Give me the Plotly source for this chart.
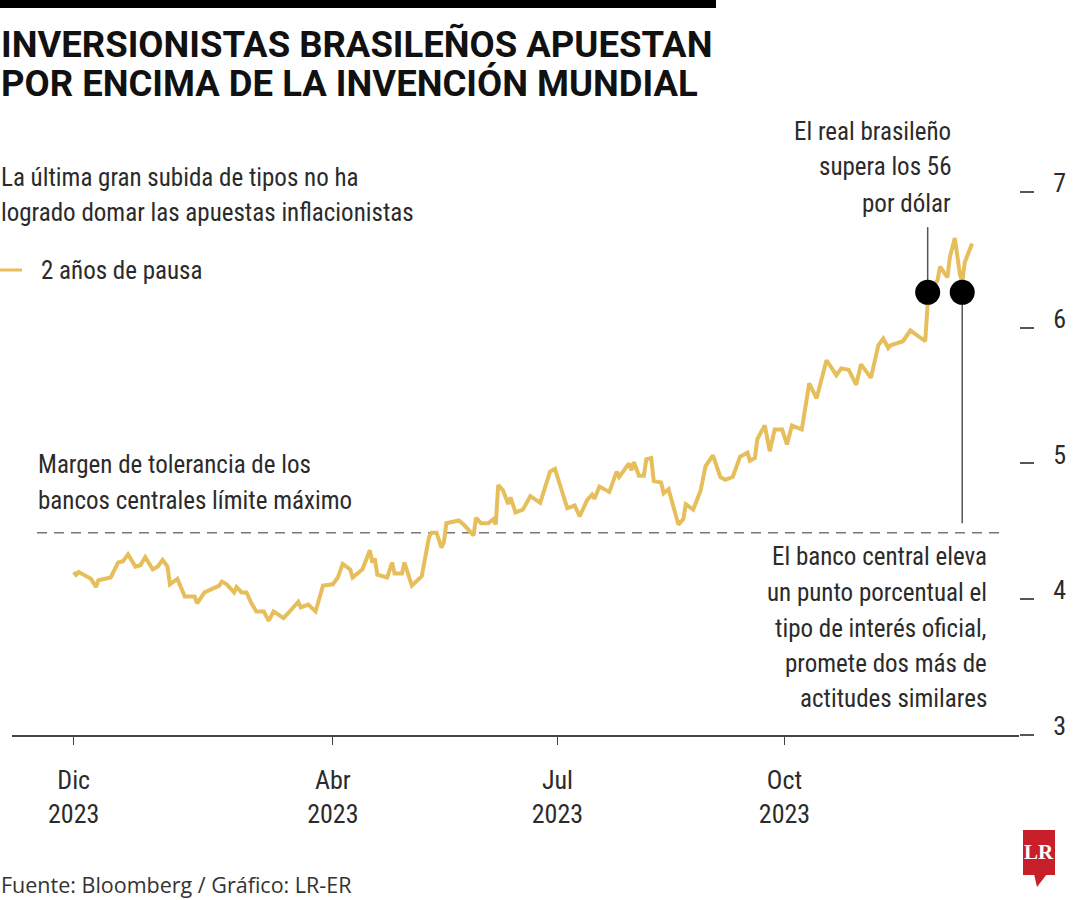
import plotly.graph_objects as go

# ---------------- data ----------------
dates = [
    "2022-12-17", "2022-12-18", "2022-12-19", "2022-12-21", "2022-12-24", "2022-12-26", "2022-12-27", "2023-01-01", "2023-01-04", "2023-01-06",
    "2023-01-08", "2023-01-11", "2023-01-13", "2023-01-15", "2023-01-18", "2023-01-20", "2023-01-22", "2023-01-24", "2023-01-25", "2023-01-28",
    "2023-01-29", "2023-01-31", "2023-02-04", "2023-02-05", "2023-02-08", "2023-02-14", "2023-02-15", "2023-02-17", "2023-02-20", "2023-02-21",
    "2023-02-23", "2023-02-25", "2023-02-27", "2023-03-01", "2023-03-04", "2023-03-06", "2023-03-08", "2023-03-12", "2023-03-18", "2023-03-19",
    "2023-03-22", "2023-03-25", "2023-03-28", "2023-04-01", "2023-04-03", "2023-04-05", "2023-04-08", "2023-04-09", "2023-04-13", "2023-04-16",
    "2023-04-17", "2023-04-18", "2023-04-19", "2023-04-23", "2023-04-25", "2023-04-26", "2023-04-29", "2023-04-30", "2023-05-03", "2023-05-06",
    "2023-05-07", "2023-05-10", "2023-05-11", "2023-05-13", "2023-05-15", "2023-05-16", "2023-05-17", "2023-05-22", "2023-05-24", "2023-05-28",
    "2023-05-29", "2023-05-31", "2023-06-03", "2023-06-05", "2023-06-06", "2023-06-07", "2023-06-09", "2023-06-11", "2023-06-12", "2023-06-14",
    "2023-06-17", "2023-06-20", "2023-06-24", "2023-06-28", "2023-06-30", "2023-07-05", "2023-07-08", "2023-07-10", "2023-07-13", "2023-07-15",
    "2023-07-16", "2023-07-18", "2023-07-22", "2023-07-25", "2023-07-26", "2023-07-30", "2023-07-31", "2023-08-01", "2023-08-03", "2023-08-05",
    "2023-08-06", "2023-08-08", "2023-08-09", "2023-08-12", "2023-08-13", "2023-08-15", "2023-08-19", "2023-08-21", "2023-08-22", "2023-08-25",
    "2023-08-28", "2023-08-30", "2023-09-02", "2023-09-05", "2023-09-07", "2023-09-10", "2023-09-13", "2023-09-16", "2023-09-17", "2023-09-19",
    "2023-09-20", "2023-09-23", "2023-09-25", "2023-09-27", "2023-09-30", "2023-10-02", "2023-10-04", "2023-10-08", "2023-10-11", "2023-10-14",
    "2023-10-18", "2023-10-22", "2023-10-24", "2023-10-27", "2023-10-30", "2023-11-01", "2023-11-05", "2023-11-08", "2023-11-10", "2023-11-12",
    "2023-11-13", "2023-11-18", "2023-11-21", "2023-11-27", "2023-11-28", "2023-11-30", "2023-12-02", "2023-12-03", "2023-12-05", "2023-12-06",
    "2023-12-07", "2023-12-09", "2023-12-11", "2023-12-12", "2023-12-13", "2023-12-16",
]
values = [
    4.20, 4.18, 4.20, 4.18, 4.15, 4.09, 4.14, 4.16, 4.27, 4.28,
    4.33, 4.24, 4.25, 4.31, 4.22, 4.24, 4.29, 4.24, 4.11, 4.15,
    4.10, 4.02, 4.02, 3.97, 4.05, 4.10, 4.13, 4.11, 4.05, 4.09,
    4.05, 4.05, 3.97, 3.91, 3.91, 3.84, 3.91, 3.86, 3.98, 3.94,
    3.96, 3.91, 4.10, 4.11, 4.16, 4.26, 4.22, 4.16, 4.22, 4.36,
    4.27, 4.30, 4.18, 4.16, 4.27, 4.19, 4.19, 4.27, 4.10, 4.16,
    4.17, 4.46, 4.49, 4.49, 4.38, 4.42, 4.56, 4.58, 4.55, 4.47,
    4.60, 4.56, 4.56, 4.59, 4.55, 4.84, 4.80, 4.70, 4.75, 4.64,
    4.66, 4.76, 4.71, 4.94, 4.96, 4.67, 4.69, 4.61, 4.73, 4.77,
    4.74, 4.83, 4.79, 4.94, 4.90, 5.00, 4.95, 5.01, 4.91, 4.91,
    5.03, 5.04, 4.87, 4.86, 4.78, 4.81, 4.55, 4.59, 4.70, 4.66,
    4.80, 4.98, 5.06, 4.90, 4.88, 4.90, 5.05, 5.08, 5.02, 5.04,
    5.18, 5.28, 5.09, 5.25, 5.25, 5.14, 5.28, 5.25, 5.59, 5.48,
    5.76, 5.65, 5.70, 5.69, 5.58, 5.73, 5.63, 5.87, 5.92, 5.85,
    5.87, 5.90, 5.98, 5.90, 6.18, 6.29, 6.35, 6.45, 6.40, 6.37,
    6.52, 6.66, 6.40, 6.33, 6.48, 6.62,
]
event_dates = ["2023-11-28", "2023-12-12"]
event_values = [6.26, 6.26]
event_line_ends = [6.74, 4.56]
tolerance_max = 4.49

x_tickvals = ["2022-12-17", "2023-04-01", "2023-07-01", "2023-10-01"]
x_ticktext = ["Dic<br>2023", "Abr<br>2023", "Jul<br>2023", "Oct<br>2023"]
y_tickvals = [3, 4, 5, 6, 7]

series_name = "2 años de pausa"
title_lines = ["INVERSIONISTAS BRASILEÑOS APUESTAN", "POR ENCIMA DE LA INVENCIÓN MUNDIAL"]
subtitle_lines = ["La última gran subida de tipos no ha", "logrado domar las apuestas inflacionistas"]
note_real = ["El real brasileño", "supera los 56", "por dólar"]
note_margin = ["Margen de tolerancia de los", "bancos centrales límite máximo"]
note_bank = ["El banco central eleva", "un punto porcentual el", "tipo de interés oficial,",
             "promete dos más de", "actitudes similares"]
source = "Fuente: Bloomberg / Gráfico: LR-ER"

# ---------------- style ----------------
GOLD = "#E6BF5C"
TXT = "#2b2b2b"
COND = "Roboto Condensed, DejaVu Sans Condensed, sans-serif"
TS = 25  # annotation text size

L, R, T, B = 12, 1019, 124, 735  # plot area in px
W, H = 1080, 900


def px(x):
    return (x - L) / (R - L)


def py(y):
    return (B - y) / (B - T)


fig = go.Figure()
fig.add_trace(go.Scatter(x=dates, y=values, mode="lines", name=series_name,
                         line=dict(color=GOLD, width=4), showlegend=False))
fig.add_trace(go.Scatter(x=event_dates, y=event_values, mode="markers",
                         marker=dict(color="black", size=25), showlegend=False, cliponaxis=False))

shapes = []
for d, v, e in zip(event_dates, event_values, event_line_ends):
    shapes.append(dict(type="line", xref="x", yref="y", x0=d, x1=d, y0=v, y1=e,
                       line=dict(color="#555555", width=1.5), layer="below"))
shapes.append(dict(type="line", xref="paper", yref="y", x0=px(37), x1=px(1003),
                   y0=tolerance_max, y1=tolerance_max,
                   line=dict(color="#777777", width=1.6, dash="10px,7px"), layer="below"))
shapes.append(dict(type="rect", xref="paper", yref="paper", x0=px(0), x1=px(716), y0=py(8), y1=py(0),
                   fillcolor="black", line=dict(width=0)))
shapes.append(dict(type="line", xref="paper", yref="paper", x0=px(0), x1=px(22), y0=py(270), y1=py(270),
                   line=dict(color=GOLD, width=3)))
shapes.append(dict(type="rect", xref="paper", yref="paper", x0=px(1023), x1=px(1055), y0=py(875), y1=py(830),
                   fillcolor="#C8202A", line=dict(width=0)))
shapes.append(dict(type="path", xref="paper", yref="paper",
                   path=f"M {px(1034)},{py(874)} L {px(1047)},{py(874)} L {px(1037)},{py(887)} Z",
                   fillcolor="#C8202A", line=dict(width=0)))

annotations = []


def add_text(text, x, y, anchor="left", size=TS, family=COND, color=TXT):
    annotations.append(dict(text=text, x=px(x), y=py(y), xref="paper", yref="paper",
                            xanchor=anchor, yanchor="middle", showarrow=False,
                            font=dict(size=size, family=family, color=color)))


for t, y in zip(title_lines, [45, 83]):
    add_text(f"<b>{t}</b>", -1, y, size=36.5, family="Roboto, Lato, sans-serif", color="#111111")
for t, y in zip(subtitle_lines, [178, 212]):
    add_text(t, -1, y)
add_text(series_name, 39, 270)
for t, y in zip(note_real, [131, 167, 203]):
    add_text(t, 953, y, anchor="right")
for t, y in zip(note_margin, [465, 500]):
    add_text(t, 36, y)
for t, y in zip(note_bank, [556, 592, 628, 663, 698]):
    add_text(t, 989, y, anchor="right")
add_text(source, -1, 885, size=21.5, family="Open Sans, Roboto, sans-serif", color="#333333")
add_text("<b>LR</b>", 1039, 852, anchor="center", size=21,
         family="Liberation Serif, DejaVu Serif, serif", color="white")

fig.update_layout(
    width=W, height=H,
    margin=dict(l=L, r=W - R, t=T, b=H - B, pad=0, autoexpand=False),
    paper_bgcolor="white", plot_bgcolor="white",
    shapes=shapes, annotations=annotations,
    showlegend=False,
    xaxis=dict(type="date", range=["2022-11-22", "2024-01-04"], automargin=False,
               tickvals=x_tickvals, ticktext=x_ticktext,
               ticks="outside", ticklen=8, tickwidth=1.2, tickcolor="#444444",
               showline=True, linecolor="#444444", linewidth=1.5,
               showgrid=False, zeroline=False, ticklabelstandoff=13,
               tickfont=dict(size=26, family=COND, color=TXT)),
    yaxis=dict(range=[3, 7.5], side="right", tickvals=y_tickvals, automargin=False,
               ticks="outside", ticklen=14, tickwidth=1.5, tickcolor="#555555",
               showline=False, showgrid=False, zeroline=False,
               ticklabelstandoff=14, ticklabelshift=-9,
               tickfont=dict(size=26, family=COND, color=TXT)),
)

fig.write_html("out.html", config={"displayModeBar": False},
               post_script="document.body.style.margin='0';document.body.style.padding='0';")
